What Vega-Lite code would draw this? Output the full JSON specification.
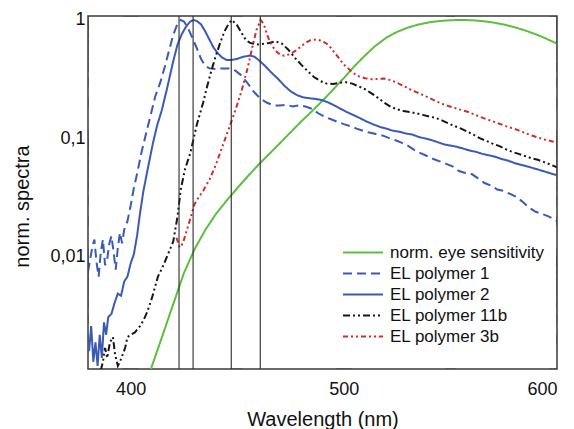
{
  "$schema": "https://vega.github.io/schema/vega-lite/v6.json",
  "width": 469,
  "height": 353,
  "autosize": "none",
  "padding": {"left": 88, "top": 16, "right": 17, "bottom": 60},
  "background": "white",
  "config": {
    "font": "Liberation Sans",
    "view": {"stroke": "#3a3a3a", "strokeWidth": 1.5},
    "axis": {
      "grid": false,
      "domain": false,
      "ticks": false,
      "labelFont": "Liberation Sans",
      "labelFontSize": 18,
      "labelColor": "#111111",
      "titleFont": "Liberation Sans",
      "titleFontSize": 20,
      "titleFontWeight": "normal",
      "titleColor": "#111111"
    },
    "legend": {
      "labelFont": "Liberation Sans",
      "labelFontSize": 17,
      "labelColor": "#111111"
    }
  },
  "datasets": {
    "markers": [{"x": 422.7}, {"x": 429.3}, {"x": 447.2}, {"x": 460.8}],
    "xticks": [{"x": 400}, {"x": 450}, {"x": 500}, {"x": 550}, {"x": 600}],
    "yticks": [
      {"y": 0.002}, {"y": 0.003}, {"y": 0.004}, {"y": 0.005}, {"y": 0.006}, {"y": 0.007}, {"y": 0.008}, {"y": 0.009},
      {"y": 0.01}, {"y": 0.02}, {"y": 0.03}, {"y": 0.04}, {"y": 0.05}, {"y": 0.06}, {"y": 0.07}, {"y": 0.08}, {"y": 0.09},
      {"y": 0.1}, {"y": 0.2}, {"y": 0.3}, {"y": 0.4}, {"y": 0.5}, {"y": 0.6}, {"y": 0.7}, {"y": 0.8}, {"y": 0.9}, {"y": 1}
    ],
    "spectra": [
      {"s": "norm. eye sensitivity", "x": 405, "y": 0.00064},
      {"s": "norm. eye sensitivity", "x": 410, "y": 0.0012},
      {"s": "norm. eye sensitivity", "x": 415, "y": 0.00218},
      {"s": "norm. eye sensitivity", "x": 420, "y": 0.004},
      {"s": "norm. eye sensitivity", "x": 425, "y": 0.0073},
      {"s": "norm. eye sensitivity", "x": 430, "y": 0.0116},
      {"s": "norm. eye sensitivity", "x": 435, "y": 0.01684},
      {"s": "norm. eye sensitivity", "x": 440, "y": 0.023},
      {"s": "norm. eye sensitivity", "x": 445, "y": 0.0298},
      {"s": "norm. eye sensitivity", "x": 450, "y": 0.038},
      {"s": "norm. eye sensitivity", "x": 455, "y": 0.048},
      {"s": "norm. eye sensitivity", "x": 460, "y": 0.06},
      {"s": "norm. eye sensitivity", "x": 465, "y": 0.0739},
      {"s": "norm. eye sensitivity", "x": 470, "y": 0.091},
      {"s": "norm. eye sensitivity", "x": 475, "y": 0.1126},
      {"s": "norm. eye sensitivity", "x": 480, "y": 0.139},
      {"s": "norm. eye sensitivity", "x": 485, "y": 0.1693},
      {"s": "norm. eye sensitivity", "x": 490, "y": 0.208},
      {"s": "norm. eye sensitivity", "x": 495, "y": 0.2586},
      {"s": "norm. eye sensitivity", "x": 500, "y": 0.323},
      {"s": "norm. eye sensitivity", "x": 505, "y": 0.4073},
      {"s": "norm. eye sensitivity", "x": 510, "y": 0.503},
      {"s": "norm. eye sensitivity", "x": 515, "y": 0.6082},
      {"s": "norm. eye sensitivity", "x": 520, "y": 0.71},
      {"s": "norm. eye sensitivity", "x": 525, "y": 0.7932},
      {"s": "norm. eye sensitivity", "x": 530, "y": 0.862},
      {"s": "norm. eye sensitivity", "x": 535, "y": 0.9149},
      {"s": "norm. eye sensitivity", "x": 540, "y": 0.954},
      {"s": "norm. eye sensitivity", "x": 545, "y": 0.9803},
      {"s": "norm. eye sensitivity", "x": 550, "y": 0.995},
      {"s": "norm. eye sensitivity", "x": 555, "y": 1.0},
      {"s": "norm. eye sensitivity", "x": 560, "y": 0.995},
      {"s": "norm. eye sensitivity", "x": 565, "y": 0.9786},
      {"s": "norm. eye sensitivity", "x": 570, "y": 0.952},
      {"s": "norm. eye sensitivity", "x": 575, "y": 0.9154},
      {"s": "norm. eye sensitivity", "x": 580, "y": 0.87},
      {"s": "norm. eye sensitivity", "x": 585, "y": 0.8163},
      {"s": "norm. eye sensitivity", "x": 590, "y": 0.757},
      {"s": "norm. eye sensitivity", "x": 595, "y": 0.6949},
      {"s": "norm. eye sensitivity", "x": 600, "y": 0.631},

      {"s": "EL polymer 1", "x": 380, "y": 0.0075},
      {"s": "EL polymer 1", "x": 381, "y": 0.0095},
      {"s": "EL polymer 1", "x": 382, "y": 0.012},
      {"s": "EL polymer 1", "x": 383, "y": 0.014},
      {"s": "EL polymer 1", "x": 384, "y": 0.009},
      {"s": "EL polymer 1", "x": 385, "y": 0.0068},
      {"s": "EL polymer 1", "x": 386, "y": 0.011},
      {"s": "EL polymer 1", "x": 387, "y": 0.014},
      {"s": "EL polymer 1", "x": 388, "y": 0.0085},
      {"s": "EL polymer 1", "x": 389, "y": 0.0095},
      {"s": "EL polymer 1", "x": 390, "y": 0.013},
      {"s": "EL polymer 1", "x": 391, "y": 0.015},
      {"s": "EL polymer 1", "x": 392, "y": 0.011},
      {"s": "EL polymer 1", "x": 393, "y": 0.0078},
      {"s": "EL polymer 1", "x": 394, "y": 0.012},
      {"s": "EL polymer 1", "x": 395, "y": 0.016},
      {"s": "EL polymer 1", "x": 396, "y": 0.013},
      {"s": "EL polymer 1", "x": 397, "y": 0.017},
      {"s": "EL polymer 1", "x": 398.5, "y": 0.02},
      {"s": "EL polymer 1", "x": 400, "y": 0.027},
      {"s": "EL polymer 1", "x": 401.5, "y": 0.038},
      {"s": "EL polymer 1", "x": 403, "y": 0.05},
      {"s": "EL polymer 1", "x": 405, "y": 0.075},
      {"s": "EL polymer 1", "x": 407.5, "y": 0.115},
      {"s": "EL polymer 1", "x": 409.5, "y": 0.16},
      {"s": "EL polymer 1", "x": 411.5, "y": 0.225},
      {"s": "EL polymer 1", "x": 414, "y": 0.3},
      {"s": "EL polymer 1", "x": 416, "y": 0.4},
      {"s": "EL polymer 1", "x": 418, "y": 0.55},
      {"s": "EL polymer 1", "x": 420, "y": 0.75},
      {"s": "EL polymer 1", "x": 422, "y": 0.93},
      {"s": "EL polymer 1", "x": 423.5, "y": 1.0},
      {"s": "EL polymer 1", "x": 425, "y": 0.97},
      {"s": "EL polymer 1", "x": 427, "y": 0.85},
      {"s": "EL polymer 1", "x": 429, "y": 0.7},
      {"s": "EL polymer 1", "x": 431, "y": 0.58},
      {"s": "EL polymer 1", "x": 433, "y": 0.47},
      {"s": "EL polymer 1", "x": 435, "y": 0.41},
      {"s": "EL polymer 1", "x": 437, "y": 0.39},
      {"s": "EL polymer 1", "x": 440, "y": 0.385},
      {"s": "EL polymer 1", "x": 443, "y": 0.39},
      {"s": "EL polymer 1", "x": 446, "y": 0.39},
      {"s": "EL polymer 1", "x": 449, "y": 0.375},
      {"s": "EL polymer 1", "x": 452, "y": 0.34},
      {"s": "EL polymer 1", "x": 455, "y": 0.29},
      {"s": "EL polymer 1", "x": 458, "y": 0.245},
      {"s": "EL polymer 1", "x": 461, "y": 0.215},
      {"s": "EL polymer 1", "x": 464, "y": 0.2},
      {"s": "EL polymer 1", "x": 467, "y": 0.19},
      {"s": "EL polymer 1", "x": 470, "y": 0.19},
      {"s": "EL polymer 1", "x": 473, "y": 0.192},
      {"s": "EL polymer 1", "x": 476, "y": 0.186},
      {"s": "EL polymer 1", "x": 479, "y": 0.19},
      {"s": "EL polymer 1", "x": 482, "y": 0.186},
      {"s": "EL polymer 1", "x": 485, "y": 0.178},
      {"s": "EL polymer 1", "x": 488, "y": 0.163},
      {"s": "EL polymer 1", "x": 491, "y": 0.152},
      {"s": "EL polymer 1", "x": 494, "y": 0.145},
      {"s": "EL polymer 1", "x": 497, "y": 0.138},
      {"s": "EL polymer 1", "x": 500, "y": 0.132},
      {"s": "EL polymer 1", "x": 503, "y": 0.127},
      {"s": "EL polymer 1", "x": 506, "y": 0.121},
      {"s": "EL polymer 1", "x": 509, "y": 0.116},
      {"s": "EL polymer 1", "x": 512, "y": 0.112},
      {"s": "EL polymer 1", "x": 515, "y": 0.109},
      {"s": "EL polymer 1", "x": 518, "y": 0.106},
      {"s": "EL polymer 1", "x": 521, "y": 0.101},
      {"s": "EL polymer 1", "x": 524, "y": 0.097},
      {"s": "EL polymer 1", "x": 527, "y": 0.092},
      {"s": "EL polymer 1", "x": 530, "y": 0.087},
      {"s": "EL polymer 1", "x": 533, "y": 0.08},
      {"s": "EL polymer 1", "x": 536, "y": 0.075},
      {"s": "EL polymer 1", "x": 539, "y": 0.071},
      {"s": "EL polymer 1", "x": 542, "y": 0.067},
      {"s": "EL polymer 1", "x": 545, "y": 0.064},
      {"s": "EL polymer 1", "x": 548, "y": 0.061},
      {"s": "EL polymer 1", "x": 551, "y": 0.058},
      {"s": "EL polymer 1", "x": 554, "y": 0.053},
      {"s": "EL polymer 1", "x": 557, "y": 0.051},
      {"s": "EL polymer 1", "x": 560, "y": 0.05},
      {"s": "EL polymer 1", "x": 563, "y": 0.046},
      {"s": "EL polymer 1", "x": 566, "y": 0.042},
      {"s": "EL polymer 1", "x": 569, "y": 0.04},
      {"s": "EL polymer 1", "x": 572, "y": 0.037},
      {"s": "EL polymer 1", "x": 575, "y": 0.036},
      {"s": "EL polymer 1", "x": 578, "y": 0.034},
      {"s": "EL polymer 1", "x": 581, "y": 0.032},
      {"s": "EL polymer 1", "x": 584, "y": 0.029},
      {"s": "EL polymer 1", "x": 587, "y": 0.026},
      {"s": "EL polymer 1", "x": 590, "y": 0.024},
      {"s": "EL polymer 1", "x": 593, "y": 0.023},
      {"s": "EL polymer 1", "x": 596, "y": 0.022},
      {"s": "EL polymer 1", "x": 600, "y": 0.02},

      {"s": "EL polymer 2", "x": 380.5, "y": 0.0016},
      {"s": "EL polymer 2", "x": 381.5, "y": 0.0026},
      {"s": "EL polymer 2", "x": 382.5, "y": 0.0013},
      {"s": "EL polymer 2", "x": 383.5, "y": 0.0019},
      {"s": "EL polymer 2", "x": 384.5, "y": 0.0012},
      {"s": "EL polymer 2", "x": 385.5, "y": 0.0022},
      {"s": "EL polymer 2", "x": 386.5, "y": 0.0014},
      {"s": "EL polymer 2", "x": 387.5, "y": 0.0028},
      {"s": "EL polymer 2", "x": 388.5, "y": 0.0022},
      {"s": "EL polymer 2", "x": 389.5, "y": 0.0031},
      {"s": "EL polymer 2", "x": 391, "y": 0.0033},
      {"s": "EL polymer 2", "x": 392.5, "y": 0.0041},
      {"s": "EL polymer 2", "x": 394, "y": 0.0049},
      {"s": "EL polymer 2", "x": 395.5, "y": 0.0047},
      {"s": "EL polymer 2", "x": 397, "y": 0.0062},
      {"s": "EL polymer 2", "x": 398.5, "y": 0.0068},
      {"s": "EL polymer 2", "x": 400, "y": 0.0088},
      {"s": "EL polymer 2", "x": 401.5, "y": 0.0105},
      {"s": "EL polymer 2", "x": 403, "y": 0.015},
      {"s": "EL polymer 2", "x": 404.5, "y": 0.024},
      {"s": "EL polymer 2", "x": 406, "y": 0.036},
      {"s": "EL polymer 2", "x": 408, "y": 0.055},
      {"s": "EL polymer 2", "x": 410.5, "y": 0.092},
      {"s": "EL polymer 2", "x": 412.5, "y": 0.13},
      {"s": "EL polymer 2", "x": 414.5, "y": 0.17},
      {"s": "EL polymer 2", "x": 417, "y": 0.26},
      {"s": "EL polymer 2", "x": 420, "y": 0.45},
      {"s": "EL polymer 2", "x": 422, "y": 0.62},
      {"s": "EL polymer 2", "x": 424, "y": 0.76},
      {"s": "EL polymer 2", "x": 426, "y": 0.88},
      {"s": "EL polymer 2", "x": 428, "y": 0.97},
      {"s": "EL polymer 2", "x": 429.5, "y": 1.0},
      {"s": "EL polymer 2", "x": 431, "y": 0.98},
      {"s": "EL polymer 2", "x": 433, "y": 0.92},
      {"s": "EL polymer 2", "x": 435, "y": 0.8},
      {"s": "EL polymer 2", "x": 437, "y": 0.68},
      {"s": "EL polymer 2", "x": 439, "y": 0.58},
      {"s": "EL polymer 2", "x": 441, "y": 0.52},
      {"s": "EL polymer 2", "x": 443, "y": 0.48},
      {"s": "EL polymer 2", "x": 445, "y": 0.46},
      {"s": "EL polymer 2", "x": 447.5, "y": 0.46},
      {"s": "EL polymer 2", "x": 450, "y": 0.47},
      {"s": "EL polymer 2", "x": 453, "y": 0.49},
      {"s": "EL polymer 2", "x": 456, "y": 0.5},
      {"s": "EL polymer 2", "x": 458, "y": 0.49},
      {"s": "EL polymer 2", "x": 460, "y": 0.46},
      {"s": "EL polymer 2", "x": 463, "y": 0.41},
      {"s": "EL polymer 2", "x": 466, "y": 0.36},
      {"s": "EL polymer 2", "x": 469, "y": 0.32},
      {"s": "EL polymer 2", "x": 472, "y": 0.28},
      {"s": "EL polymer 2", "x": 475, "y": 0.25},
      {"s": "EL polymer 2", "x": 478, "y": 0.232},
      {"s": "EL polymer 2", "x": 481, "y": 0.222},
      {"s": "EL polymer 2", "x": 484, "y": 0.218},
      {"s": "EL polymer 2", "x": 487, "y": 0.215},
      {"s": "EL polymer 2", "x": 490, "y": 0.21},
      {"s": "EL polymer 2", "x": 493, "y": 0.2},
      {"s": "EL polymer 2", "x": 496, "y": 0.188},
      {"s": "EL polymer 2", "x": 499, "y": 0.176},
      {"s": "EL polymer 2", "x": 502, "y": 0.165},
      {"s": "EL polymer 2", "x": 505, "y": 0.156},
      {"s": "EL polymer 2", "x": 508, "y": 0.147},
      {"s": "EL polymer 2", "x": 511, "y": 0.138},
      {"s": "EL polymer 2", "x": 514, "y": 0.131},
      {"s": "EL polymer 2", "x": 517, "y": 0.125},
      {"s": "EL polymer 2", "x": 520, "y": 0.121},
      {"s": "EL polymer 2", "x": 523, "y": 0.116},
      {"s": "EL polymer 2", "x": 526, "y": 0.114},
      {"s": "EL polymer 2", "x": 529, "y": 0.11},
      {"s": "EL polymer 2", "x": 532, "y": 0.108},
      {"s": "EL polymer 2", "x": 535, "y": 0.103},
      {"s": "EL polymer 2", "x": 538, "y": 0.1},
      {"s": "EL polymer 2", "x": 541, "y": 0.097},
      {"s": "EL polymer 2", "x": 544, "y": 0.093},
      {"s": "EL polymer 2", "x": 547, "y": 0.089},
      {"s": "EL polymer 2", "x": 550, "y": 0.087},
      {"s": "EL polymer 2", "x": 553, "y": 0.085},
      {"s": "EL polymer 2", "x": 556, "y": 0.082},
      {"s": "EL polymer 2", "x": 559, "y": 0.079},
      {"s": "EL polymer 2", "x": 562, "y": 0.077},
      {"s": "EL polymer 2", "x": 565, "y": 0.074},
      {"s": "EL polymer 2", "x": 568, "y": 0.072},
      {"s": "EL polymer 2", "x": 571, "y": 0.07},
      {"s": "EL polymer 2", "x": 574, "y": 0.067},
      {"s": "EL polymer 2", "x": 577, "y": 0.065},
      {"s": "EL polymer 2", "x": 580, "y": 0.062},
      {"s": "EL polymer 2", "x": 583, "y": 0.06},
      {"s": "EL polymer 2", "x": 586, "y": 0.058},
      {"s": "EL polymer 2", "x": 589, "y": 0.056},
      {"s": "EL polymer 2", "x": 592, "y": 0.054},
      {"s": "EL polymer 2", "x": 595, "y": 0.052},
      {"s": "EL polymer 2", "x": 598, "y": 0.05},
      {"s": "EL polymer 2", "x": 600, "y": 0.049},

      {"s": "EL polymer 11b", "x": 386, "y": 0.0011},
      {"s": "EL polymer 11b", "x": 387, "y": 0.0013},
      {"s": "EL polymer 11b", "x": 388, "y": 0.0017},
      {"s": "EL polymer 11b", "x": 389, "y": 0.0014},
      {"s": "EL polymer 11b", "x": 390.3, "y": 0.0019},
      {"s": "EL polymer 11b", "x": 391.7, "y": 0.0021},
      {"s": "EL polymer 11b", "x": 392.7, "y": 0.0015},
      {"s": "EL polymer 11b", "x": 394, "y": 0.0012},
      {"s": "EL polymer 11b", "x": 395, "y": 0.0013},
      {"s": "EL polymer 11b", "x": 397.4, "y": 0.0017},
      {"s": "EL polymer 11b", "x": 398.5, "y": 0.0021},
      {"s": "EL polymer 11b", "x": 400, "y": 0.0022},
      {"s": "EL polymer 11b", "x": 402, "y": 0.0023},
      {"s": "EL polymer 11b", "x": 404.4, "y": 0.0026},
      {"s": "EL polymer 11b", "x": 406, "y": 0.0029},
      {"s": "EL polymer 11b", "x": 407.7, "y": 0.0034},
      {"s": "EL polymer 11b", "x": 410, "y": 0.0045},
      {"s": "EL polymer 11b", "x": 412.8, "y": 0.0068},
      {"s": "EL polymer 11b", "x": 415, "y": 0.0082},
      {"s": "EL polymer 11b", "x": 417.5, "y": 0.0105},
      {"s": "EL polymer 11b", "x": 420, "y": 0.0135},
      {"s": "EL polymer 11b", "x": 422, "y": 0.022},
      {"s": "EL polymer 11b", "x": 423.5, "y": 0.037},
      {"s": "EL polymer 11b", "x": 425.5, "y": 0.055},
      {"s": "EL polymer 11b", "x": 428, "y": 0.075},
      {"s": "EL polymer 11b", "x": 431, "y": 0.13},
      {"s": "EL polymer 11b", "x": 434, "y": 0.2},
      {"s": "EL polymer 11b", "x": 436, "y": 0.28},
      {"s": "EL polymer 11b", "x": 438, "y": 0.38},
      {"s": "EL polymer 11b", "x": 440, "y": 0.5},
      {"s": "EL polymer 11b", "x": 442, "y": 0.64},
      {"s": "EL polymer 11b", "x": 444, "y": 0.8},
      {"s": "EL polymer 11b", "x": 446, "y": 0.93},
      {"s": "EL polymer 11b", "x": 447.5, "y": 1.0},
      {"s": "EL polymer 11b", "x": 450, "y": 0.9},
      {"s": "EL polymer 11b", "x": 452, "y": 0.78},
      {"s": "EL polymer 11b", "x": 454, "y": 0.68},
      {"s": "EL polymer 11b", "x": 456, "y": 0.64},
      {"s": "EL polymer 11b", "x": 460, "y": 0.62},
      {"s": "EL polymer 11b", "x": 465, "y": 0.64},
      {"s": "EL polymer 11b", "x": 468, "y": 0.66},
      {"s": "EL polymer 11b", "x": 471, "y": 0.63},
      {"s": "EL polymer 11b", "x": 474, "y": 0.56},
      {"s": "EL polymer 11b", "x": 477, "y": 0.48},
      {"s": "EL polymer 11b", "x": 480, "y": 0.42},
      {"s": "EL polymer 11b", "x": 483, "y": 0.37},
      {"s": "EL polymer 11b", "x": 486, "y": 0.33},
      {"s": "EL polymer 11b", "x": 489, "y": 0.305},
      {"s": "EL polymer 11b", "x": 492, "y": 0.29},
      {"s": "EL polymer 11b", "x": 495, "y": 0.288},
      {"s": "EL polymer 11b", "x": 498, "y": 0.295},
      {"s": "EL polymer 11b", "x": 501, "y": 0.298},
      {"s": "EL polymer 11b", "x": 504, "y": 0.29},
      {"s": "EL polymer 11b", "x": 507, "y": 0.275},
      {"s": "EL polymer 11b", "x": 510, "y": 0.26},
      {"s": "EL polymer 11b", "x": 513, "y": 0.24},
      {"s": "EL polymer 11b", "x": 516, "y": 0.22},
      {"s": "EL polymer 11b", "x": 519, "y": 0.2},
      {"s": "EL polymer 11b", "x": 522, "y": 0.185},
      {"s": "EL polymer 11b", "x": 525, "y": 0.176},
      {"s": "EL polymer 11b", "x": 528, "y": 0.17},
      {"s": "EL polymer 11b", "x": 531, "y": 0.167},
      {"s": "EL polymer 11b", "x": 534, "y": 0.163},
      {"s": "EL polymer 11b", "x": 537, "y": 0.158},
      {"s": "EL polymer 11b", "x": 540, "y": 0.153},
      {"s": "EL polymer 11b", "x": 543, "y": 0.149},
      {"s": "EL polymer 11b", "x": 546, "y": 0.142},
      {"s": "EL polymer 11b", "x": 549, "y": 0.134},
      {"s": "EL polymer 11b", "x": 552, "y": 0.127},
      {"s": "EL polymer 11b", "x": 555, "y": 0.121},
      {"s": "EL polymer 11b", "x": 558, "y": 0.114},
      {"s": "EL polymer 11b", "x": 561, "y": 0.107},
      {"s": "EL polymer 11b", "x": 564, "y": 0.1},
      {"s": "EL polymer 11b", "x": 567, "y": 0.095},
      {"s": "EL polymer 11b", "x": 570, "y": 0.09},
      {"s": "EL polymer 11b", "x": 573, "y": 0.086},
      {"s": "EL polymer 11b", "x": 576, "y": 0.081},
      {"s": "EL polymer 11b", "x": 579, "y": 0.077},
      {"s": "EL polymer 11b", "x": 582, "y": 0.074},
      {"s": "EL polymer 11b", "x": 585, "y": 0.071},
      {"s": "EL polymer 11b", "x": 588, "y": 0.068},
      {"s": "EL polymer 11b", "x": 591, "y": 0.066},
      {"s": "EL polymer 11b", "x": 594, "y": 0.063},
      {"s": "EL polymer 11b", "x": 597, "y": 0.06},
      {"s": "EL polymer 11b", "x": 600, "y": 0.057},

      {"s": "EL polymer 3b", "x": 421.5, "y": 0.0145},
      {"s": "EL polymer 3b", "x": 423, "y": 0.012},
      {"s": "EL polymer 3b", "x": 424.5, "y": 0.013},
      {"s": "EL polymer 3b", "x": 426, "y": 0.016},
      {"s": "EL polymer 3b", "x": 428, "y": 0.021},
      {"s": "EL polymer 3b", "x": 430, "y": 0.028},
      {"s": "EL polymer 3b", "x": 432, "y": 0.032},
      {"s": "EL polymer 3b", "x": 434, "y": 0.036},
      {"s": "EL polymer 3b", "x": 437, "y": 0.045},
      {"s": "EL polymer 3b", "x": 440, "y": 0.06},
      {"s": "EL polymer 3b", "x": 443, "y": 0.085},
      {"s": "EL polymer 3b", "x": 446, "y": 0.12},
      {"s": "EL polymer 3b", "x": 449, "y": 0.17},
      {"s": "EL polymer 3b", "x": 452, "y": 0.25},
      {"s": "EL polymer 3b", "x": 455, "y": 0.4},
      {"s": "EL polymer 3b", "x": 457, "y": 0.58},
      {"s": "EL polymer 3b", "x": 459, "y": 0.82},
      {"s": "EL polymer 3b", "x": 461, "y": 1.0},
      {"s": "EL polymer 3b", "x": 462.5, "y": 0.92},
      {"s": "EL polymer 3b", "x": 464, "y": 0.75},
      {"s": "EL polymer 3b", "x": 466, "y": 0.62},
      {"s": "EL polymer 3b", "x": 468, "y": 0.55},
      {"s": "EL polymer 3b", "x": 470, "y": 0.51},
      {"s": "EL polymer 3b", "x": 472, "y": 0.5},
      {"s": "EL polymer 3b", "x": 474, "y": 0.51},
      {"s": "EL polymer 3b", "x": 476, "y": 0.53},
      {"s": "EL polymer 3b", "x": 478, "y": 0.56},
      {"s": "EL polymer 3b", "x": 480, "y": 0.6},
      {"s": "EL polymer 3b", "x": 482, "y": 0.64},
      {"s": "EL polymer 3b", "x": 484, "y": 0.67},
      {"s": "EL polymer 3b", "x": 486, "y": 0.68},
      {"s": "EL polymer 3b", "x": 488, "y": 0.68},
      {"s": "EL polymer 3b", "x": 490, "y": 0.66},
      {"s": "EL polymer 3b", "x": 492, "y": 0.63},
      {"s": "EL polymer 3b", "x": 494, "y": 0.58},
      {"s": "EL polymer 3b", "x": 496, "y": 0.52},
      {"s": "EL polymer 3b", "x": 498, "y": 0.47},
      {"s": "EL polymer 3b", "x": 500, "y": 0.42},
      {"s": "EL polymer 3b", "x": 502, "y": 0.39},
      {"s": "EL polymer 3b", "x": 504, "y": 0.36},
      {"s": "EL polymer 3b", "x": 507, "y": 0.335},
      {"s": "EL polymer 3b", "x": 510, "y": 0.322},
      {"s": "EL polymer 3b", "x": 513, "y": 0.316},
      {"s": "EL polymer 3b", "x": 516, "y": 0.318},
      {"s": "EL polymer 3b", "x": 519, "y": 0.32},
      {"s": "EL polymer 3b", "x": 522, "y": 0.31},
      {"s": "EL polymer 3b", "x": 525, "y": 0.295},
      {"s": "EL polymer 3b", "x": 528, "y": 0.277},
      {"s": "EL polymer 3b", "x": 531, "y": 0.26},
      {"s": "EL polymer 3b", "x": 534, "y": 0.246},
      {"s": "EL polymer 3b", "x": 537, "y": 0.233},
      {"s": "EL polymer 3b", "x": 540, "y": 0.22},
      {"s": "EL polymer 3b", "x": 543, "y": 0.207},
      {"s": "EL polymer 3b", "x": 546, "y": 0.196},
      {"s": "EL polymer 3b", "x": 549, "y": 0.188},
      {"s": "EL polymer 3b", "x": 552, "y": 0.181},
      {"s": "EL polymer 3b", "x": 555, "y": 0.174},
      {"s": "EL polymer 3b", "x": 558, "y": 0.168},
      {"s": "EL polymer 3b", "x": 561, "y": 0.16},
      {"s": "EL polymer 3b", "x": 564, "y": 0.152},
      {"s": "EL polymer 3b", "x": 567, "y": 0.145},
      {"s": "EL polymer 3b", "x": 570, "y": 0.139},
      {"s": "EL polymer 3b", "x": 573, "y": 0.133},
      {"s": "EL polymer 3b", "x": 576, "y": 0.127},
      {"s": "EL polymer 3b", "x": 579, "y": 0.122},
      {"s": "EL polymer 3b", "x": 582, "y": 0.117},
      {"s": "EL polymer 3b", "x": 585, "y": 0.111},
      {"s": "EL polymer 3b", "x": 588, "y": 0.106},
      {"s": "EL polymer 3b", "x": 591, "y": 0.102},
      {"s": "EL polymer 3b", "x": 594, "y": 0.098},
      {"s": "EL polymer 3b", "x": 597, "y": 0.095},
      {"s": "EL polymer 3b", "x": 600, "y": 0.092}
    ]
  },
  "layer": [
    {
      "data": {"name": "spectra"},
      "mark": {"type": "line", "clip": true, "strokeWidth": 2},
      "encoding": {
        "x": {
          "field": "x", "type": "quantitative",
          "scale": {"domain": [380, 600], "nice": false, "zero": false},
          "axis": {
            "orient": "bottom", "title": "Wavelength (nm)",
            "values": [400, 500, 600],
            "labelPadding": 11,
            "titleY": 56, "titleBaseline": "alphabetic"
          }
        },
        "y": {
          "field": "y", "type": "quantitative",
          "scale": {"type": "log", "domain": [0.00113, 1.08], "nice": false},
          "axis": {
            "orient": "left", "title": "norm. spectra",
            "values": [0.01, 0.1, 1],
            "labelExpr": "abs(datum.value - 1) < 1e-9 ? '1' : (abs(datum.value - 0.1) < 1e-9 ? '0,1' : '0,01')",
            "labelPadding": 3,
            "titleX": -60, "titleY": 190, "titleAngle": -90, "titleBaseline": "alphabetic", "titleAlign": "center"
          }
        },
        "color": {
          "field": "s", "type": "nominal",
          "scale": {
            "domain": ["norm. eye sensitivity", "EL polymer 1", "EL polymer 2", "EL polymer 11b", "EL polymer 3b"],
            "range": ["#5cbf3e", "#3a5bb5", "#3a5bb5", "#161616", "#d22b2b"]
          },
          "legend": {
            "title": null, "orient": "none", "legendX": 254, "legendY": 226,
            "symbolType": "stroke", "symbolSize": 1600, "symbolStrokeWidth": 2,
            "clipHeight": 21, "rowPadding": 0, "labelOffset": 6, "padding": 0
          }
        },
        "strokeDash": {
          "field": "s", "type": "nominal",
          "scale": {
            "domain": ["norm. eye sensitivity", "EL polymer 1", "EL polymer 2", "EL polymer 11b", "EL polymer 3b"],
            "range": [[1, 0], [9, 5], [1, 0], [7, 3, 2, 3, 2, 3], [5, 3, 2, 3, 2, 3]]
          },
          "legend": {
            "title": null, "orient": "none", "legendX": 254, "legendY": 226,
            "symbolType": "stroke", "symbolSize": 1600, "symbolStrokeWidth": 2,
            "clipHeight": 21, "rowPadding": 0, "labelOffset": 6, "padding": 0
          }
        }
      }
    },
    {
      "data": {"name": "markers"},
      "mark": {"type": "rule", "color": "#2a2a2a", "strokeWidth": 1.1},
      "encoding": {
        "x": {"field": "x", "type": "quantitative"}
      }
    },
    {
      "data": {"name": "yticks"},
      "mark": {"type": "tick", "orient": "vertical", "clip": true, "color": "#3a3a3a", "thickness": 1.2},
      "encoding": {
        "x": {"datum": 380},
        "y": {"field": "y", "type": "quantitative"},
        "size": {"condition": {"test": "abs(log(datum.y)/LN10 - round(log(datum.y)/LN10)) < 0.01", "value": 16}, "value": 10}
      }
    },
    {
      "data": {"name": "yticks"},
      "mark": {"type": "tick", "orient": "vertical", "clip": true, "color": "#3a3a3a", "thickness": 1.2},
      "encoding": {
        "x": {"datum": 600},
        "y": {"field": "y", "type": "quantitative"},
        "size": {"condition": {"test": "abs(log(datum.y)/LN10 - round(log(datum.y)/LN10)) < 0.01", "value": 16}, "value": 10}
      }
    },
    {
      "data": {"name": "xticks"},
      "mark": {"type": "tick", "orient": "horizontal", "clip": true, "color": "#3a3a3a", "thickness": 1.2},
      "encoding": {
        "x": {"field": "x", "type": "quantitative"},
        "y": {"datum": 0.00113},
        "size": {"condition": {"test": "datum.x % 100 == 0", "value": 16}, "value": 10}
      }
    },
    {
      "data": {"name": "xticks"},
      "mark": {"type": "tick", "orient": "horizontal", "clip": true, "color": "#3a3a3a", "thickness": 1.2},
      "encoding": {
        "x": {"field": "x", "type": "quantitative"},
        "y": {"datum": 1.08},
        "size": {"condition": {"test": "datum.x % 100 == 0", "value": 16}, "value": 10}
      }
    }
  ]
}
